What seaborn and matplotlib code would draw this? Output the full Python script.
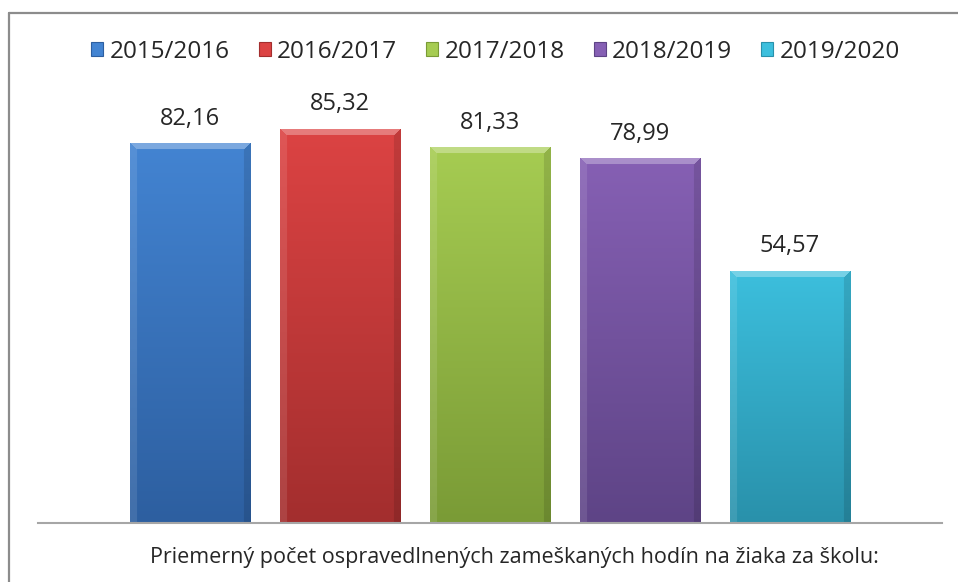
import numpy as np
import pandas as pd
import matplotlib
matplotlib.use("Agg")
import matplotlib.pyplot as plt
import seaborn as sns
from matplotlib.patches import Patch
from matplotlib.lines import Line2D
from matplotlib.colors import to_rgb

# ---- data ----
categories = ["2015/2016", "2016/2017", "2017/2018", "2018/2019", "2019/2020"]
values = [82.16, 85.32, 81.33, 78.99, 54.57]
value_labels = ["82,16", "85,32", "81,33", "78,99", "54,57"]
title = "Priemerný počet ospravedlnených zameškaných hodín na žiaka za školu:"

top_colors = ["#4384d2", "#dc4343", "#a6cc52", "#8660b4", "#3cbfdd"]
bottom_colors = ["#2d5fa0", "#a32e2e", "#7a9b36", "#5e4486", "#2991ab"]

sns.set_theme(style="white")
plt.rcParams["font.family"] = ["Open Sans", "DejaVu Sans"]

W, H = 958, 582
fig = plt.figure(figsize=(W / 100, H / 100), dpi=100)
fig.patch.set_facecolor("white")

ax_left, ax_right = 38, 942
ax_bottom_px, ax_top_px = 522.5, 61.2
ax = fig.add_axes([ax_left / W, (H - ax_bottom_px) / H,
                   (ax_right - ax_left) / W, (ax_bottom_px - ax_top_px) / H])

df = pd.DataFrame({"period": categories, "value": values})
sns.barplot(data=df, x="period", y="value", hue="period", palette=top_colors,
            width=0.8, ax=ax, legend=False, saturation=1, edgecolor="none")

ax.set_xlim(-1.013, 5.013)
ax.set_ylim(0, 100)

# gradient + bevel overlay on each bar
px_per_x = (ax_right - ax_left) / (5.013 + 1.013)
px_per_y = (ax_bottom_px - ax_top_px) / 100.0
for i, p in enumerate(ax.patches[:len(categories)]):
    x0, w = p.get_x(), p.get_width()
    h = p.get_height()
    wp = max(int(round(w * px_per_x)), 2)
    hp = max(int(round(h * px_per_y)), 2)
    c_top = np.array(to_rgb(top_colors[i]))
    c_bot = np.array(to_rgb(bottom_colors[i]))
    t = np.linspace(0, 1, hp)[:, None, None]
    img = c_top[None, None, :] * (1 - t) + c_bot[None, None, :] * t
    img = np.repeat(img, wp, axis=1)
    yy, xx = np.mgrid[0:hp, 0:wp]
    dt = yy
    dl = xx
    dr = wp - 1 - xx
    b = 7
    top_f = (dt < b) & (dt <= dl) & (dt <= dr)
    left_f = (dl < b) & ~top_f & (dl <= dr)
    right_f = (dr < b) & ~top_f & ~left_f
    white = np.ones(3)
    img[top_f] = img[top_f] * 0.7 + white * 0.3
    img[left_f] = img[left_f] * 0.9 + white * 0.1
    img[right_f] = img[right_f] * 0.88
    im = ax.imshow(img, extent=[x0, x0 + w, 0, h], aspect="auto",
                   origin="upper", zorder=p.get_zorder() + 0.1,
                   interpolation="bilinear")
    im.set_clip_path(p)

ax.set_xlim(-1.013, 5.013)
ax.set_ylim(0, 100)

for i, cont in enumerate(ax.containers):
    ax.bar_label(cont, labels=[value_labels[i]], padding=9, fontsize=17,
                 color="#262626")

for s in ["top", "right", "left"]:
    ax.spines[s].set_visible(False)
ax.spines["bottom"].set_color("#a6a6a6")
ax.spines["bottom"].set_linewidth(1.5)
ax.set_xticks([])
ax.set_yticks([])
ax.set_xlabel("")
ax.set_ylabel("")
ax.set_facecolor("none")

handles = [Patch(facecolor=top_colors[i], edgecolor=bottom_colors[i], linewidth=0.8)
           for i in range(len(categories))]
fig.legend(handles, categories, loc="center", bbox_to_anchor=(495.5 / W, (H - 52) / H),
           ncol=5, frameon=False, fontsize=17.5, handlelength=0.5, handleheight=0.5,
           handletextpad=0.25, columnspacing=1.2, labelcolor="#262626")

fig.text(514.5 / W, (H - 557) / H, title, ha="center", va="center", fontsize=15.5,
         color="#262626")

# outer frame (left and top edges visible)
fig.add_artist(Line2D([8.5 / W, 8.5 / W], [0, (H - 12.5) / H], color="#8c8c8c",
                      linewidth=1.6, transform=fig.transFigure))
fig.add_artist(Line2D([8.5 / W, 1.0], [(H - 12.5) / H, (H - 12.5) / H],
                      color="#8c8c8c", linewidth=1.6, transform=fig.transFigure))

fig.savefig("out.png", dpi=100, facecolor="white")
